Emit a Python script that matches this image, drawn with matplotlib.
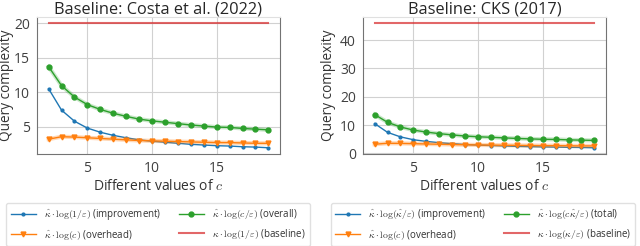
import matplotlib
matplotlib.use("Agg")
import matplotlib.pyplot as plt

plt.rcParams['font.family'] = ['Open Sans', 'DejaVu Sans']
plt.rcParams['mathtext.fontset'] = 'cm'

c_values = list(range(2, 20))
improvement = [10.5, 7.4, 5.8, 4.8, 4.2, 3.75, 3.4, 3.1, 2.9, 2.75, 2.6, 2.45, 2.35, 2.25, 2.2, 2.1, 2.05, 1.95]
overhead = [3.2, 3.55, 3.5, 3.4, 3.3, 3.2, 3.1, 3.0, 2.95, 2.9, 2.85, 2.8, 2.75, 2.7, 2.7, 2.65, 2.6, 2.6]
overall = [13.7, 10.95, 9.3, 8.2, 7.5, 6.95, 6.5, 6.1, 5.85, 5.65, 5.45, 5.25, 5.1, 4.95, 4.9, 4.75, 4.65, 4.55]
baseline_left = 20.0
baseline_right = 46.0

titles = ["Baseline: Costa et al. (2022)", "Baseline: CKS (2017)"]
labels_left = [r"$\hat{\kappa}\cdot\log(1/\varepsilon)$ (improvement)",
               r"$\hat{\kappa}\cdot\log(c)$ (overhead)",
               r"$\hat{\kappa}\cdot\log(c/\varepsilon)$ (overall)",
               r"$\kappa\cdot\log(1/\varepsilon)$ (baseline)"]
labels_right = [r"$\hat{\kappa}\cdot\log(\hat{\kappa}/\varepsilon)$ (improvement)",
                r"$\hat{\kappa}\cdot\log(c)$ (overhead)",
                r"$\hat{\kappa}\cdot\log(c\hat{\kappa}/\varepsilon)$ (total)",
                r"$\kappa\cdot\log(\kappa/\varepsilon)$ (baseline)"]

fig = plt.figure(figsize=(6.4, 2.46), dpi=100)
W, H = 640, 246
axes_px = [(37, 17, 280, 154), (363, 17, 606, 154)]
legend_px = [(3, 205, 313, 244), (328, 205, 638, 244)]
ylabel_x = [-0.094, -0.11]

for i, (x0, y0, x1, y1) in enumerate(axes_px):
    ax = fig.add_axes([x0 / W, 1 - y1 / H, (x1 - x0) / W, (y1 - y0) / H])
    labels = labels_left if i == 0 else labels_right
    base = baseline_left if i == 0 else baseline_right
    h1, = ax.plot(c_values, improvement, color='#1f77b4', marker='.', ms=4, lw=1, label=labels[0])
    ax.plot(c_values, overhead, color='#ff7f0e', lw=3, alpha=0.3)
    h2, = ax.plot(c_values, overhead, color='#ff7f0e', marker='v', ms=3.5, lw=1, label=labels[1])
    ax.plot(c_values, overall, color='#2ca02c', lw=3, alpha=0.25)
    h3, = ax.plot(c_values, overall, color='#2ca02c', marker='o', ms=3.5, lw=1, label=labels[2])
    h4, = ax.plot([c_values[0], c_values[-1]], [base, base], color='#d62728', alpha=0.7, lw=1.5, label=labels[3])
    ax.set_xticks([5, 10, 15])
    if i == 0:
        ax.set_yticks([5, 10, 15, 20])
    else:
        ax.set_yticks([0, 10, 20, 30, 40])
    ax.set_xlim(1.1, 19.9)
    ax.grid(True, color='0.82', lw=0.8)
    ax.set_axisbelow(True)
    ax.tick_params(labelsize=10, length=0, pad=5, labelcolor='0.25')
    for s in ['left', 'bottom', 'right']:
        ax.spines[s].set_color('0.45')
    ax.spines['top'].set_color('0.88')
    ax.set_title(titles[i], fontsize=11.8, pad=2, color='0.15')
    ax.set_xlabel("Different values of $c$", fontsize=10, labelpad=2, color='0.2')
    ax.set_ylabel("Query complexity", fontsize=9.8, color='0.2')
    ax.yaxis.set_label_coords(ylabel_x[i], 0.5)
    lx0, ly0, lx1, ly1 = legend_px[i]
    leg = fig.legend(handles=[h1, h2, h3, h4], ncol=2, fontsize=7,
               loc='center', bbox_to_anchor=((lx0 + lx1) / 2 / W, 1 - (ly0 + ly1) / 2 / H),
               frameon=True, edgecolor='0.85', handlelength=2.6, columnspacing=1.8,
               borderpad=0.45, labelspacing=0.55)
    for t in leg.get_texts():
        t.set_color('0.2')

fig.savefig("out.png", dpi=100)
